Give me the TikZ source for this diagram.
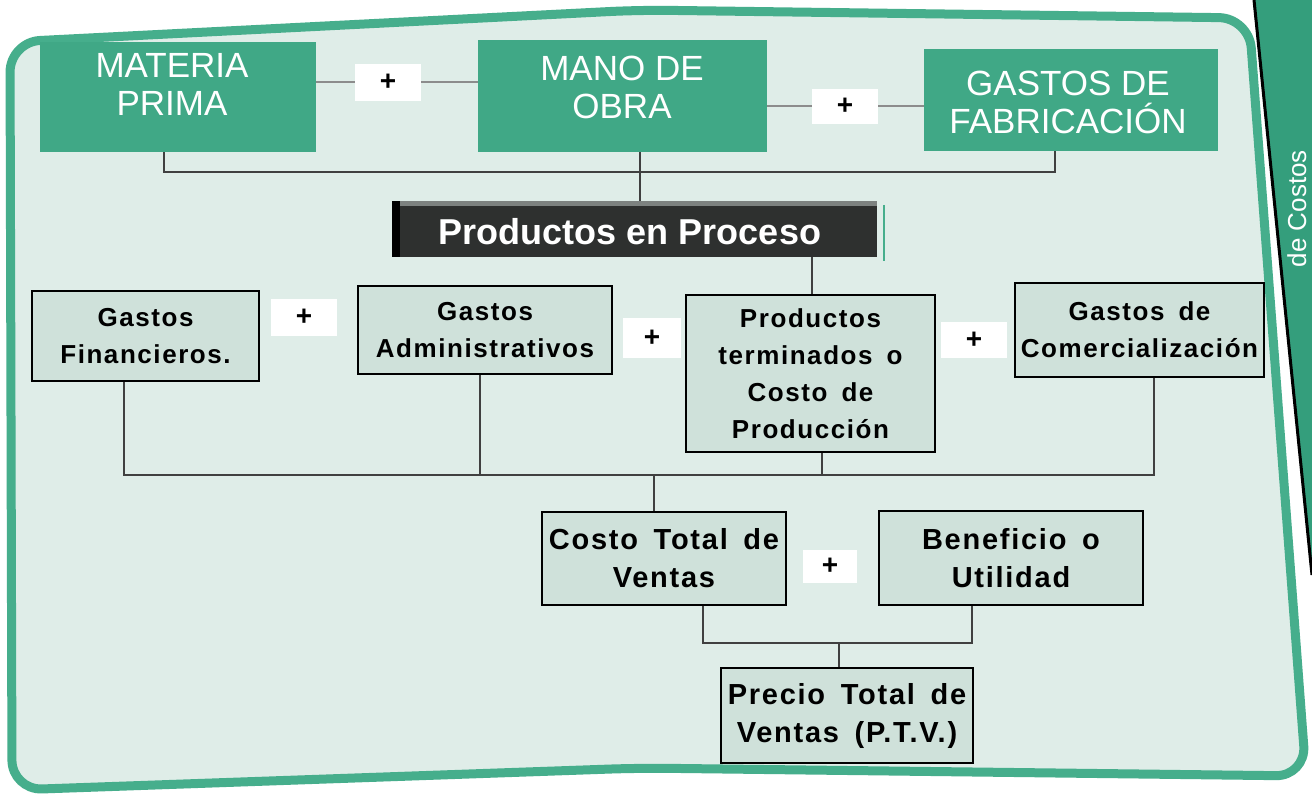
\documentclass[tikz,border=0pt]{standalone}
\usepackage{fontspec}
\setmainfont{Liberation Sans}
\newfontfamily\boxfont[LetterSpace=6,WordSpace=1.6]{Liberation Sans}
\definecolor{boxgreen}{RGB}{64,168,134}
\definecolor{framegreen}{RGB}{70,174,140}
\definecolor{tabgreen}{RGB}{52,158,124}
\definecolor{mint}{RGB}{223,237,232}
\definecolor{boxfill}{RGB}{207,225,218}
\definecolor{darkbox}{RGB}{46,48,47}
\definecolor{hilite}{RGB}{125,130,128}
\begin{document}
\begin{tikzpicture}[x=1pt,y=-1pt,
  greenbox/.style={fill=boxgreen, inner sep=0, draw=none},
  greentext/.style={text=white, align=center, inner sep=0, font=\fontsize{35}{38}\selectfont},
  plusbox/.style={fill=white, inner sep=0, font=\boxfont\bfseries\fontsize{28}{28}\selectfont},
  lbox/.style={draw=black, line width=2, fill=boxfill, align=center, inner sep=0,
    font=\boxfont\bfseries\fontsize{26}{37}\selectfont},
  lboxb/.style={lbox, font=\boxfont\bfseries\fontsize{29}{38}\selectfont},
  conn/.style={draw=black!75, line width=1.4},
  hconn/.style={draw=black!45, line width=1.8},
]
\useasboundingbox (0,0) rectangle (1312,803);
\clip (0,0) rectangle (1312,803);
\fill[white] (0,0) rectangle (1312,803);
% right tab
\fill[tabgreen] (1253,0) -- (1312,0) -- (1312,575) -- cycle;
% frame
\draw[framegreen, line width=9, fill=mint, rounded corners=30]
  (12,790) -- (10,42) -- (640,10) -- (1249,18) -- (1306,776) -- (640,768) -- cycle;
\draw[black, line width=3] (1254,0) -- (1312,575);
\node[rotate=90, anchor=north east, inner sep=0, text=white,
  font=\fontsize{26}{26}\selectfont] (tab) at (1287,150) {de Costos};

% top row
\node[greenbox, minimum width=276, minimum height=110] (mp) at (178,97) {};
\node[greentext] (mpt) at (172,84) {MATERIA\\PRIMA};
\node[greenbox, minimum width=289, minimum height=112] (mo) at (622.5,96) {};
\node[greentext] (mot) at (622,87) {MANO DE\\OBRA};
\node[greenbox, minimum width=294, minimum height=102] (gf) at (1071,100) {};
\node[greentext] (gft) at (1068,102) {GASTOS DE\\FABRICACIÓN};

\node[plusbox, minimum width=66, minimum height=37] (p1) at (388,82) {+};
\node[plusbox, minimum width=66, minimum height=35] (p2) at (845,106) {+};
\draw[hconn] (mp.east |- p1) -- (p1.west);
\draw[hconn] (p1.east) -- (mo.west |- p1);
\draw[hconn] (mo.east |- p2) -- (p2.west);
\draw[hconn] (p2.east) -- (gf.west |- p2);

\coordinate (t1) at (164,172);
\coordinate (t2) at (1055,172);
\draw[conn] (t1 |- mp.south) -- (t1) -- (t2) -- (t2 |- gf.south);

% productos en proceso
\node[fill=darkbox, minimum width=485, minimum height=56, inner sep=0] (pp) at (634.5,229) {};
\fill[hilite] ([xshift=8pt]pp.north west) rectangle ([yshift=-5pt]pp.north east);
\fill[black] (pp.north west) rectangle ([xshift=8pt]pp.south west);
\draw[framegreen, line width=2] ([xshift=7pt,yshift=-4pt]pp.north east) -- ([xshift=7pt,yshift=-4pt]pp.south east);
\node[text=white, inner sep=0, font=\bfseries\fontsize{36}{36}\selectfont] (ppt) at (630,232) {Productos en Proceso};
\coordinate (m1) at (640,172);
\draw[conn] (m1 |- mo.south) -- (m1 |- pp.north);

% row 2
\node[lbox, minimum width=227, minimum height=90] (fin) at (145.5,336) {Gastos\\Financieros.};
\node[lbox, minimum width=254, minimum height=88] (adm) at (485,330) {Gastos\\Administrativos};
\node[lbox, minimum width=249, minimum height=157] (pt) at (810.5,373.5) {Productos\\terminados o\\Costo de\\Producción};
\node[lbox, minimum width=249, minimum height=94] (com) at (1139.5,330) {Gastos de\\Comercialización};
\node[plusbox, minimum width=66, minimum height=37] (q1) at (304,317) {+};
\node[plusbox, minimum width=58, minimum height=40] (q2) at (652,338) {+};
\node[plusbox, minimum width=66, minimum height=36] (q3) at (974,340) {+};

\coordinate (r1) at (812,260);
\draw[conn] (r1 |- pp.south) -- (r1 |- pt.north);

\coordinate (b1) at (124,475);
\coordinate (b2) at (480,475);
\coordinate (b3) at (822,475);
\coordinate (b4) at (1154,475);
\coordinate (b5) at (654,475);
\draw[conn] (b1 |- fin.south) -- (b1) -- (b4) -- (b4 |- com.south);
\draw[conn] (b2 |- adm.south) -- (b2);
\draw[conn] (b3 |- pt.south) -- (b3);

% row 3
\node[lboxb, minimum width=244, minimum height=93] (cost) at (664,558) {Costo Total de\\Ventas};
\node[lboxb, minimum width=264, minimum height=94] (ben) at (1011,558) {Beneficio o\\Utilidad};
\node[plusbox, minimum width=54, minimum height=33] (s1) at (830,566) {+};
\draw[conn] (b5) -- (b5 |- cost.north);

\coordinate (c1) at (703,643);
\coordinate (c2) at (972,643);
\coordinate (c3) at (839,643);
\draw[conn] (c1 |- cost.south) -- (c1) -- (c2) -- (c2 |- ben.south);

\node[lboxb, minimum width=252, minimum height=95] (ptv) at (847,715.5) {Precio Total de\\Ventas (P.T.V.)};
\draw[conn] (c3) -- (c3 |- ptv.north);
\end{tikzpicture}
\end{document}
